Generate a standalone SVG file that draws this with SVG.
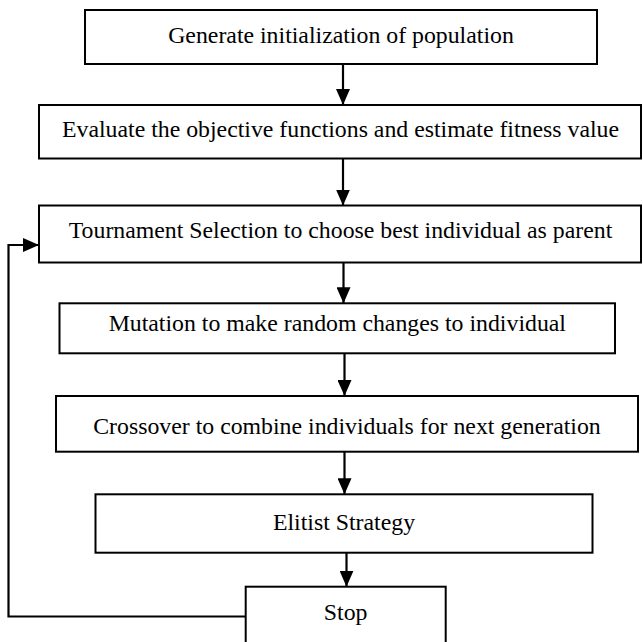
<svg xmlns="http://www.w3.org/2000/svg" width="643" height="642" viewBox="0 0 643 642">
<style>
.box{fill:#fff;stroke:#000;stroke-width:2}
.lbl{font-family:"Liberation Serif","Times New Roman",serif;font-size:23.8px;fill:#000;text-anchor:middle}
.conn{fill:none;stroke:#000;stroke-width:2.2}
</style>
<defs>
<marker id="ah" viewBox="0 0 16 14" refX="16" refY="7" markerWidth="16" markerHeight="14" markerUnits="userSpaceOnUse" orient="auto">
<path d="M0,0 L16,7 L0,14 Z" fill="#000"/>
</marker>
</defs>
<rect width="643" height="642" fill="#fff"/>
<g id="connectors">
<line class="conn" x1="343" y1="64" x2="343" y2="105" marker-end="url(#ah)"/>
<line class="conn" x1="343" y1="158.5" x2="343" y2="205.5" marker-end="url(#ah)"/>
<line class="conn" x1="343.5" y1="262.5" x2="343.5" y2="303.3" marker-end="url(#ah)"/>
<line class="conn" x1="344.5" y1="353.3" x2="344.5" y2="396" marker-end="url(#ah)"/>
<line class="conn" x1="344.5" y1="451.7" x2="344.5" y2="494.3" marker-end="url(#ah)"/>
<line class="conn" x1="346.5" y1="552.7" x2="346.5" y2="586.7" marker-end="url(#ah)"/>
<polyline class="conn" points="245.7,616.5 8.5,616.5 8.5,245 39,245" marker-end="url(#ah)"/>
</g>
<g id="n1"><rect class="box" x="85" y="10" width="512" height="54"/><text class="lbl" x="341" y="43.3">Generate initialization of population</text></g>
<g id="n2"><rect class="box" x="39" y="105" width="602" height="53.5"/><text class="lbl" x="340.5" y="136.7">Evaluate the objective functions and estimate fitness value</text></g>
<g id="n3"><rect class="box" x="39" y="205.5" width="602" height="57"/><text class="lbl" x="340.5" y="238">Tournament Selection to choose best individual as parent</text></g>
<g id="n4"><rect class="box" x="59.5" y="303.3" width="555.5" height="50"/><text class="lbl" x="337.3" y="331">Mutation to make random changes to individual</text></g>
<g id="n5"><rect class="box" x="56" y="396" width="582" height="55.7"/><text class="lbl" x="347" y="434">Crossover to combine individuals for next generation</text></g>
<g id="n6"><rect class="box" x="95.5" y="494.3" width="497" height="58.4"/><text class="lbl" x="344" y="530">Elitist Strategy</text></g>
<g id="n7"><rect class="box" x="245.7" y="586.7" width="200" height="70"/><text class="lbl" x="345.7" y="620">Stop</text></g>
</svg>
